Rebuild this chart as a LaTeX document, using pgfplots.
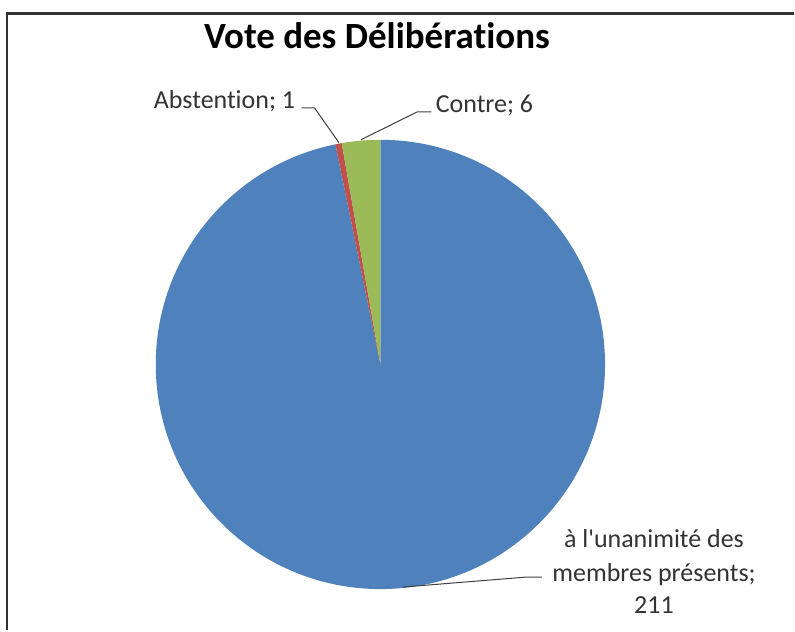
\documentclass[border=0pt]{standalone}
\usepackage{fontspec}
\setmainfont{Carlito}[Ligatures={TeXOff,CommonOff}]
\usepackage{pgfplots}
\usepackage{pgfplotstable}
\pgfplotsset{compat=1.18}

\definecolor{slblue}{HTML}{4F81BD}
\definecolor{slred}{HTML}{C0504D}
\definecolor{slgreen}{HTML}{9BBB59}
\definecolor{txt}{HTML}{333333}
\definecolor{frame}{HTML}{333333}

% votes, in clockwise order from 12 o'clock
\pgfplotstableread{
name value
unanimite 211
abstention 1
contre 6
}\votes

\pgfplotstablegetelem{0}{value}\of\votes \let\vA\pgfplotsretval
\pgfplotstablegetelem{1}{value}\of\votes \let\vB\pgfplotsretval
\pgfplotstablegetelem{2}{value}\of\votes \let\vC\pgfplotsretval
\pgfmathsetmacro\tot{\vA+\vB+\vC}
\pgfmathsetmacro\angA{90-\vA/\tot*360}
\pgfmathsetmacro\angB{\angA-\vB/\tot*360}
\pgfmathsetmacro\angC{\angB-\vC/\tot*360}

\begin{document}
\begin{tikzpicture}
\begin{axis}[
  x=1pt, y=1pt,
  xmin=0, xmax=795, ymin=0, ymax=631,
  hide axis, clip=false,
  ]
  \path[fill=white] (axis cs:0,0) rectangle (axis cs:795,631);
  % frame
  \draw[frame, line width=2.5pt] (axis cs:7,0) -- (axis cs:7,617.5) -- (axis cs:795,617.5);

  % slices
  \fill[slblue]  (axis cs:381,266) -- ++(90:225pt) arc[start angle=90, end angle=\angA, radius=225pt] -- cycle;
  \fill[slred]   (axis cs:381,266) -- ++(\angA:225pt) arc[start angle=\angA, end angle=\angB, radius=225pt] -- cycle;
  \fill[slgreen] (axis cs:381,266) -- ++(\angB:225pt) arc[start angle=\angB, end angle=\angC, radius=225pt] -- cycle;

  % title
  \node[anchor=base, font=\fontsize{37}{44}\selectfont\bfseries] at (axis cs:377.5,582) {Vote des Délibérations};

  % labels and leader lines
  \begin{scope}[font=\fontsize{26}{33}\selectfont, text=txt]
    \node[anchor=base east] at (axis cs:299,522) {Abstention; 1};
    \draw[black!75, line width=1pt] (axis cs:302,523) -- (axis cs:315,523) -- (axis cs:339.5,488);
    \node[anchor=base west] at (axis cs:433,518) {Contre; 6};
    \draw[black!75, line width=1pt] (axis cs:432,519) -- (axis cs:418,519) -- (axis cs:361.5,491);
    \node[anchor=base] at (axis cs:655,83) {à l'unanimité des};
    \node[anchor=base] at (axis cs:655,49) {membres présents;};
    \node[anchor=base] at (axis cs:655,17) {211};
    \draw[black!75, line width=1pt] (axis cs:543,53) -- (axis cs:527,53) -- (axis cs:403.5,43);
  \end{scope}
\end{axis}
\end{tikzpicture}
\end{document}
